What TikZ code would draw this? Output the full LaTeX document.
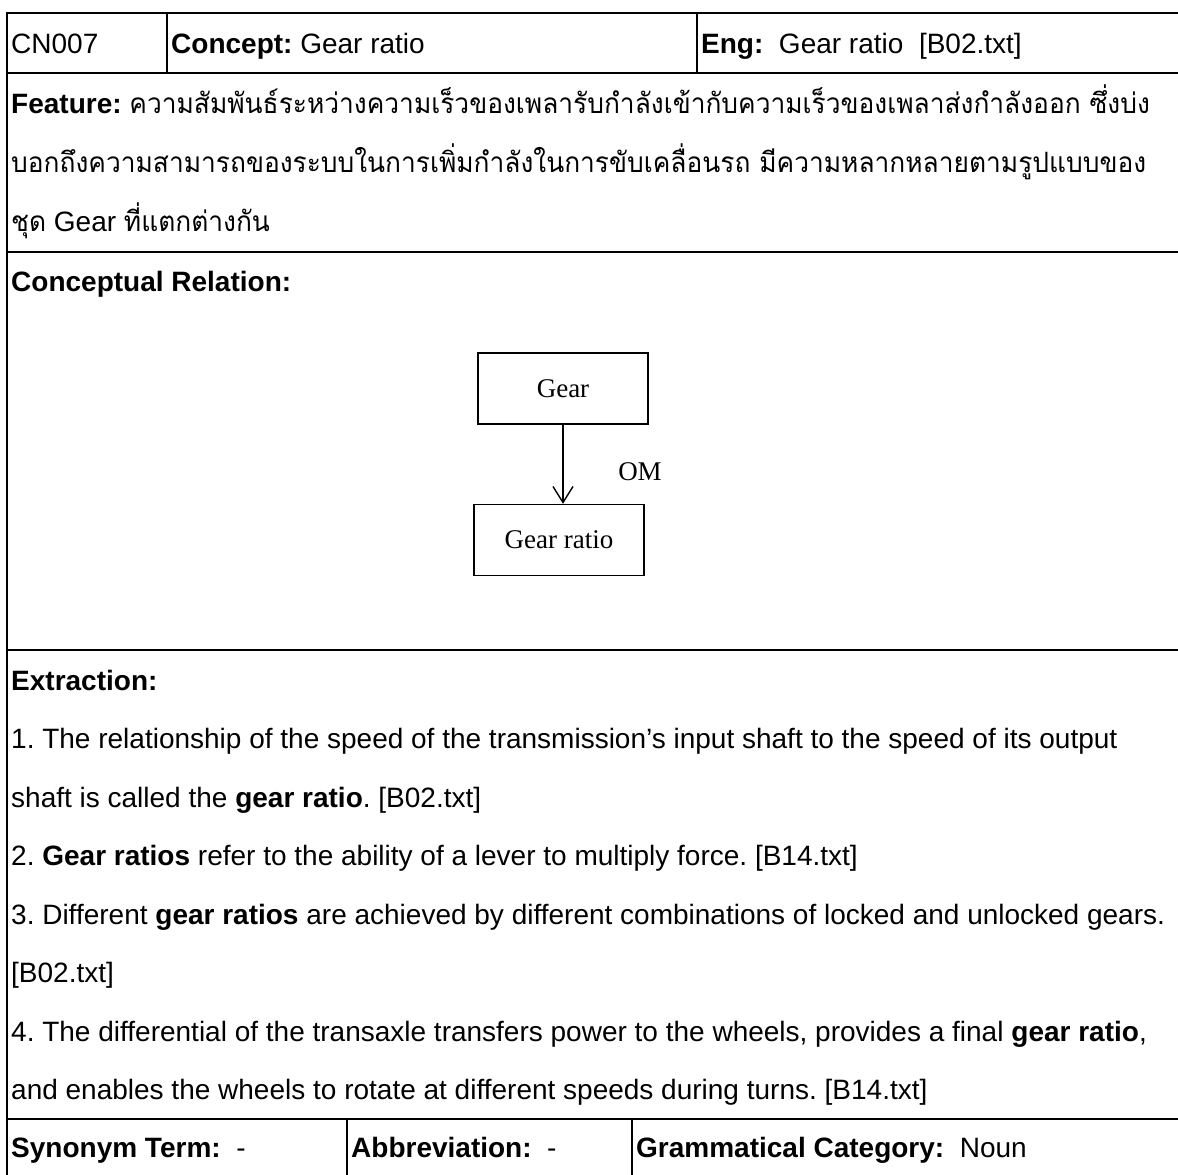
\documentclass[tikz,border=0pt]{standalone}
\usepackage{fontspec}
\setmainfont{Liberation Sans}
\newfontfamily\thaifont[Script=Thai,FakeStretch=0.94]{Loma}
\newfontfamily\diagfont{Liberation Serif}
\usetikzlibrary{arrows.meta}
\frenchspacing
\begin{document}
\begin{tikzpicture}[x=1pt,y=-1pt,
  rule/.style={line width=2.6pt},
  txt/.style={anchor=base west, inner sep=0pt, font=\fontsize{28}{32}\selectfont},
  conceptbox/.style={draw, line width=1.4pt, minimum width=170pt, minimum height=71pt,
    inner sep=0pt, font=\diagfont\fontsize{27}{30}\selectfont},
  relarrow/.style={line width=1.4pt, -{Straight Barb[length=16pt,width=20pt,line width=1.4pt]}},
]
\useasboundingbox (0,0) rectangle (1178,1175);

% table rules
\draw[rule] (7,13) -- (1178,13);
\draw[rule] (7,73) -- (1178,73);
\draw[rule] (7,252) -- (1178,252);
\draw[rule] (7,650) -- (1178,650);
\draw[rule] (7,1119) -- (1178,1119);
\draw[rule] (7,11.7) -- (7,1175);
\draw[rule] (167,13) -- (167,73);
\draw[rule] (697,13) -- (697,73);
\draw[rule] (347,1119) -- (347,1175);
\draw[rule] (632,1119) -- (632,1175);

% header row
\node[txt] (id) at (11,53) {CN007};
\node[txt] (concept) at (171,53) {\textbf{Concept:} Gear ratio};
\node[txt] (eng) at (701,53) {\textbf{Eng:}\ \ Gear ratio\ \ [B02.txt]};

% feature
\node[txt] (feat1) at (11,113) {\textbf{Feature:} {\thaifont ความสัมพันธ์ระหว่างความเร็วของเพลารับกำลังเข้ากับความเร็วของเพลาส่งกำลังออก ซึ่งบ่ง}};
\node[txt] (feat2) at (11,172) {\thaifont บอกถึงความสามารถของระบบในการเพิ่มกำลังในการขับเคลื่อนรถ มีความหลากหลายตามรูปแบบของ};
\node[txt] (feat3) at (11,231) {{\thaifont ชุด} Gear {\thaifont ที่แตกต่างกัน}};

% conceptual relation
\node[txt] (crel) at (11,291) {\textbf{Conceptual Relation:}};
\node[conceptbox] (gear) at (563,388.5) {Gear};
\node[conceptbox] (ratio) at (559,540) {Gear ratio};
\draw[relarrow] (gear.south) -- (gear.south |- ratio.north);
\node[inner sep=0pt, font=\diagfont\fontsize{27}{30}\selectfont] (om) at (640,472) {OM};

% extraction
\node[txt] (ext0) at (11,690) {\textbf{Extraction:}};
\node[txt] (ext1) at (11,748.5) {1. The relationship of the speed of the transmission’s input shaft to the speed of its output};
\node[txt] (ext2) at (11,807) {shaft is called the \textbf{gear ratio}. [B02.txt]};
\node[txt] (ext3) at (11,865.5) {2. \textbf{Gear ratios} refer to the ability of a lever to multiply force. [B14.txt]};
\node[txt] (ext4) at (11,924) {3. Different \textbf{gear ratios} are achieved by different combinations of locked and unlocked gears.};
\node[txt] (ext5) at (11,982.5) {[B02.txt]};
\node[txt] (ext6) at (11,1041) {4. The differential of the transaxle transfers power to the wheels, provides a final \textbf{gear ratio},};
\node[txt] (ext7) at (11,1099.5) {and enables the wheels to rotate at different speeds during turns. [B14.txt]};

% bottom row
\node[txt] (syn) at (11,1157) {\textbf{Synonym Term:}\ \ -};
\node[txt] (abbr) at (351,1157) {\textbf{Abbreviation:}\ \ -};
\node[txt] (gram) at (636,1157) {\textbf{Grammatical Category:}\ \ Noun};
\end{tikzpicture}
\end{document}
